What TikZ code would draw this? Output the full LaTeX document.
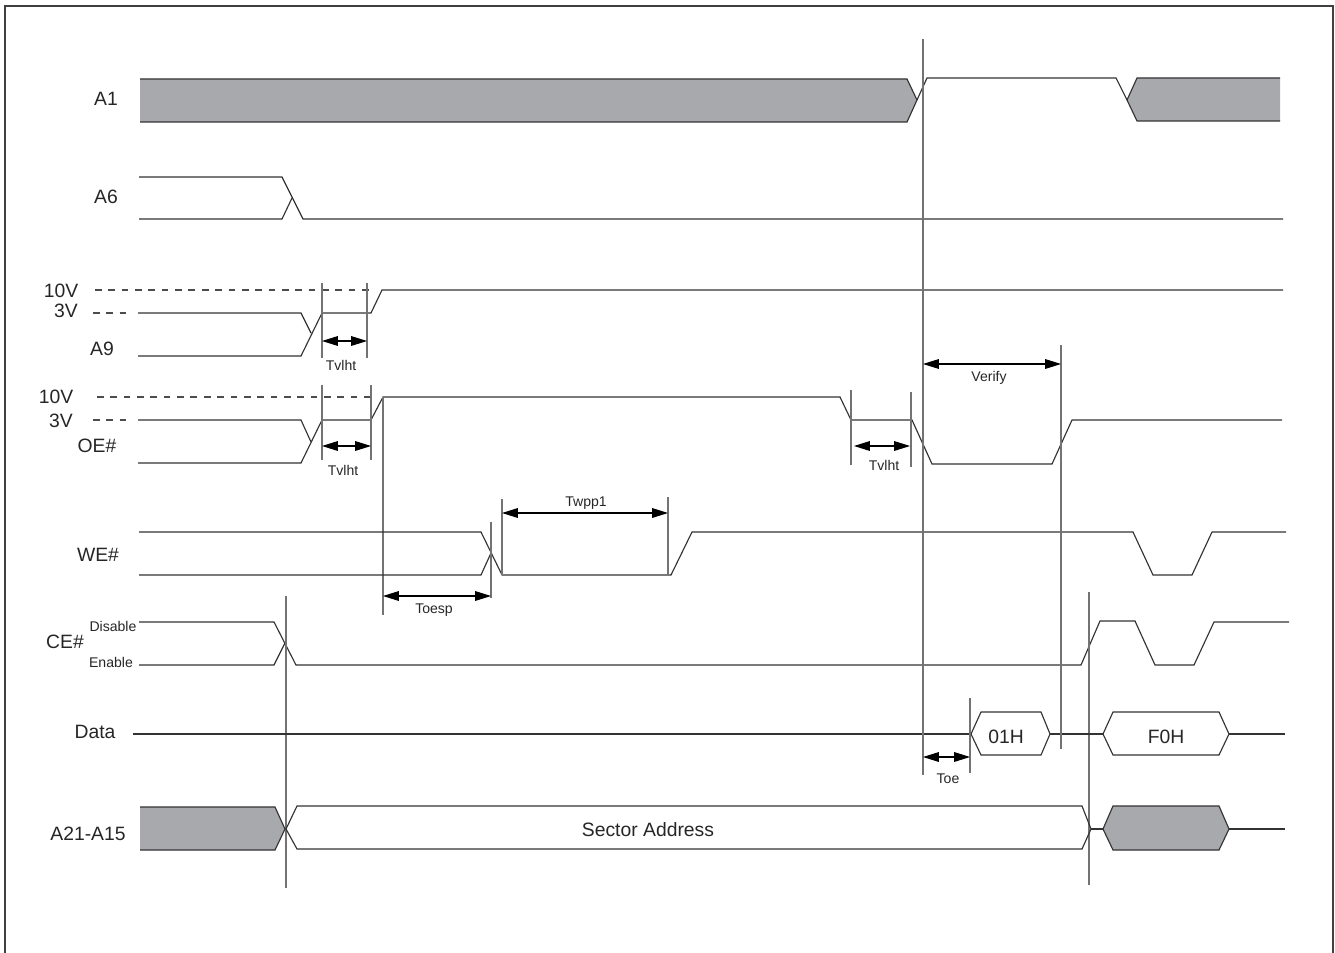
\documentclass[tikz,border=0pt]{standalone}
\usepackage{fontspec}
\setmainfont{Liberation Sans}
\usetikzlibrary{arrows.meta}
\definecolor{busgray}{HTML}{A7A9AC}

\tikzset{
  sig/.style={line width=0.65pt, draw=black!80, line join=miter},
  bus/.style={fill=busgray},
  guide/.style={line width=0.6pt, draw=black!55},
  lvl/.style={line width=0.6pt, draw=black!70, dash pattern=on 3.8pt off 3.8pt},
  dim/.style={line width=0.6pt, {Triangle[length=9pt,width=5.5pt]}-{Triangle[length=9pt,width=5.5pt]}},
  lab/.style={anchor=base, font=\fontsize{11}{13}\selectfont, text=black!85, inner sep=0pt},
  tiny/.style={anchor=base, font=\fontsize{8}{10}\selectfont, text=black!85, inner sep=0pt},
}

\begin{document}
\begin{tikzpicture}[x=0.02cm, y=-0.02cm]
  \useasboundingbox (0,0) rectangle (1335,953);

  % Frame
  \draw[line width=0.85pt, black!75] (5,953) |- (1333,6) -- (1333,953);

  % Signal names
  \foreach \txt/\x/\y [count=\i] in {A1/106/106, A6/106/203, 10V/61/297, 3V/66/317,
      A9/102/355, 10V/56/403, 3V/61/427, OE\#/97/452, WE\#/98/561, CE\#/65/648,
      Data/95/738, A21-A15/88/840} {
    \node[lab] (name\i) at (\x,\y) {\txt};
  }
  \node[tiny] (disable) at (113,631) {Disable};
  \node[tiny] (enable) at (111,667) {Enable};

  % A1
  \fill[bus] (140,79) -- (907,79) -- (917,100) -- (907,122) -- (140,122) -- cycle;
  \draw[sig] (140,79) -- (907,79) -- (917,100) -- (907,122) -- (140,122);
  \draw[sig] (917,100) -- (927,78) -- (1116,78) -- (1127,100);
  \fill[bus] (1127,100) -- (1137,78) -- (1280,78) -- (1280,121) -- (1137,121) -- cycle;
  \draw[sig] (1280,78) -- (1137,78) -- (1127,100) -- (1137,121) -- (1280,121);

  % A6
  \draw[sig] (139,177) -- (282,177) -- (303,219) -- (1283,219);
  \draw[sig] (139,219) -- (282,219) -- (292,198);

  % A9
  \draw[lvl] (95,290) -- (371,290);
  \draw[lvl] (93,313) -- (130,313);
  \draw[sig] (138,313) -- (301,313) -- (311,333);
  \draw[sig] (138,356) -- (301,356) -- (322,313) -- (371,313) -- (382,290) -- (1283,290);
  \draw[guide] (322,283) -- (322,358);
  \draw[guide] (367,283) -- (367,358);

  % OE#
  \draw[lvl] (97,397) -- (372,397);
  \draw[lvl] (93,420) -- (130,420);
  \draw[sig] (138,420) -- (301,420) -- (311,442);
  \draw[sig] (138,463) -- (301,463) -- (322,420) -- (371,420) -- (383,397) -- (840,397)
    -- (851,420) -- (912,420) -- (932,464) -- (1052,464) -- (1072,420) -- (1282,420);
  \draw[guide] (322,385) -- (322,460);
  \draw[guide] (371,385) -- (371,460);
  \draw[guide] (383,397) -- (383,615);
  \draw[guide] (851,390) -- (851,465);
  \draw[guide] (911,392) -- (911,467);

  % WE#
  \draw[sig] (139,532) -- (481,532) -- (502,575) -- (671,575) -- (692,532) -- (1133,532)
    -- (1153,575) -- (1192,575) -- (1212,532) -- (1286,532);
  \draw[sig] (139,575) -- (481,575) -- (491,553);
  \draw[guide] (491,522) -- (491,598);
  \draw[guide] (502,499) -- (502,575);
  \draw[guide] (668,497) -- (668,575);

  % CE#
  \draw[sig] (139,622) -- (274,622) -- (296,665) -- (1081,665) -- (1100,621) -- (1135,621)
    -- (1155,665) -- (1194,665) -- (1214,622) -- (1289,622);
  \draw[sig] (139,665) -- (274,665) -- (285,643);
  \draw[guide] (286,596) -- (286,888);
  \draw[guide] (1089,592) -- (1089,885);

  % Data
  \draw[sig] (133,734) -- (971,734);
  \draw[sig] (971,734) -- (981,712) -- (1041,712) -- (1050,734) -- (1041,755) -- (981,755) -- cycle;
  \draw[sig] (1050,734) -- (1103,734);
  \draw[sig] (1103,734) -- (1113,712) -- (1219,712) -- (1229,734) -- (1219,755) -- (1113,755) -- cycle;
  \draw[sig] (1229,734) -- (1285,734);
  \node[lab] (d01) at (1006,743) {01H};
  \node[lab] (dF0) at (1166,743) {F0H};
  \draw[guide] (970,698) -- (970,773);

  % A21-A15
  \fill[bus] (140,807) -- (275,807) -- (285,829) -- (275,850) -- (140,850) -- cycle;
  \draw[sig] (140,807) -- (275,807) -- (285,829) -- (275,850) -- (140,850);
  \draw[sig] (286,829) -- (297,806) -- (1082,806) -- (1091,829) -- (1082,849) -- (297,849) -- cycle;
  \node[lab] (sector) at (648,836) {Sector Address};
  \draw[sig] (1091,829) -- (1103,829);
  \filldraw[sig, bus] (1103,829) -- (1113,806) -- (1219,806) -- (1229,829) -- (1219,850) -- (1113,850) -- cycle;
  \draw[sig] (1229,829) -- (1285,829);

  % Verify window
  \draw[guide] (923,39) -- (923,775);
  \draw[guide] (1061,345) -- (1061,749);

  % Timing arrows
  \coordinate (tv1a) at (322,341);  \coordinate (tv1b) at (367,341);
  \coordinate (tv2a) at (322,446);  \coordinate (tv2b) at (371,446);
  \coordinate (tv3a) at (854,446);  \coordinate (tv3b) at (910,446);
  \coordinate (vfa) at (923,364);   \coordinate (vfb) at (1061,364);
  \coordinate (twa) at (502,513);   \coordinate (twb) at (668,513);
  \coordinate (tsa) at (383,596);   \coordinate (tsb) at (491,596);
  \coordinate (toa) at (923,757);   \coordinate (tob) at (970,757);
  \foreach \a/\b in {tv1a/tv1b, tv2a/tv2b, tv3a/tv3b, vfa/vfb, twa/twb, tsa/tsb, toa/tob}
    \draw[dim] (\a) -- (\b);

  \node[tiny] (tvlht1) at (341,370) {Tvlht};
  \node[tiny] (tvlht2) at (343,475) {Tvlht};
  \node[tiny] (tvlht3) at (884,470) {Tvlht};
  \node[tiny] (verify) at (989,381) {Verify};
  \node[tiny] (twpp) at (586,506) {Twpp1};
  \node[tiny] (toesp) at (434,613) {Toesp};
  \node[tiny] (toe) at (948,783) {Toe};
\end{tikzpicture}
\end{document}
